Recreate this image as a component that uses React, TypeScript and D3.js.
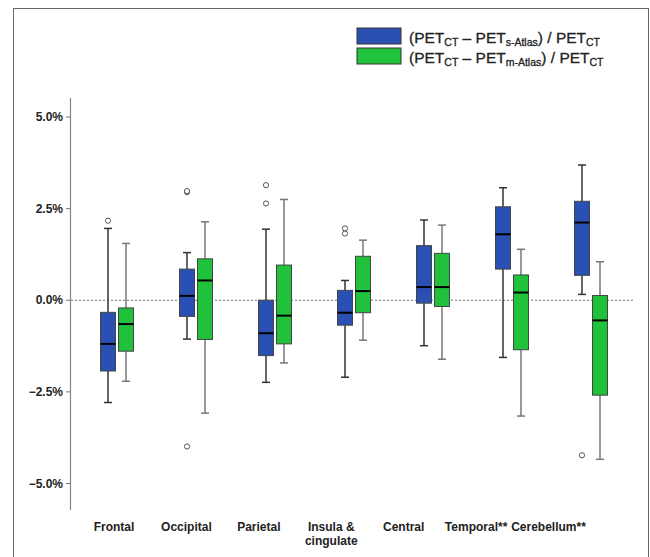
import React from "react";
import * as d3 from "d3";

const categories = ["Frontal", "Occipital", "Parietal", "Insula & cingulate", "Central", "Temporal**", "Cerebellum**"];
const categoryLines = [["Frontal"], ["Occipital"], ["Parietal"], ["Insula &", "cingulate"], ["Central"], ["Temporal**"], ["Cerebellum**"]];

// values in %
const sLow = [-2.79, -1.06, -2.24, -2.10, -1.24, -1.56, 0.16];
const sQ1 = [-1.93, -0.44, -1.51, -0.68, -0.08, 0.85, 0.68];
const sMed = [-1.19, 0.12, -0.90, -0.34, 0.36, 1.80, 2.12];
const sQ3 = [-0.33, 0.85, 0.0, 0.27, 1.49, 2.55, 2.70];
const sHigh = [1.96, 1.30, 1.94, 0.54, 2.19, 3.07, 3.69];
const sOutliers = [[2.17], [2.95, 2.98, -3.99], [3.14, 2.64], [1.96, 1.82], [], [], [-4.23]];

const mLow = [-2.21, -3.08, -1.71, -1.09, -1.61, -3.16, -4.34];
const mQ1 = [-1.39, -1.07, -1.19, -0.34, -0.17, -1.35, -2.59];
const mMed = [-0.65, 0.54, -0.42, 0.25, 0.36, 0.21, -0.55];
const mQ3 = [-0.21, 1.13, 0.96, 1.20, 1.28, 0.69, 0.13];
const mHigh = [1.55, 2.14, 2.75, 1.64, 2.05, 1.39, 1.05];
const mOutliers: number[][] = [[], [], [], [], [], [], []];

const yTicks = [5, 2.5, 0, -2.5, -5];

const BLUE = "#2a50b4";
const GREEN = "#1fc23a";

export default function App() {
  const x = d3.scaleBand<string>().domain(categories).range([77.5, 630.5]).padding(0);
  const xLabel = d3.scalePoint<string>().domain(categories).range([114, 548.5]);
  const y = d3.scaleLinear().domain([-5, 5]).range([483.5, 117]);
  const boxW = 15;
  const offset = 9;
  const capW = 8;

  const series = [
    { color: BLUE, whisk: "#333", low: sLow, q1: sQ1, med: sMed, q3: sQ3, high: sHigh, out: sOutliers, dx: -offset },
    { color: GREEN, whisk: "#777", low: mLow, q1: mQ1, med: mMed, q3: mQ3, high: mHigh, out: mOutliers, dx: offset },
  ];

  const font = "Arial, 'Liberation Sans', sans-serif";

  return (
    <>
      <style>{`body{margin:0}`}</style>
      <svg width={650} height={557} style={{ display: "block", fontFamily: font }}>
        <rect x={0} y={0} width={650} height={557} fill="#fff" />
        <rect x={13.5} y={8.5} width={635} height={560} fill="none" stroke="#666" strokeWidth={1} />

        {/* y axis */}
        <line x1={70.5} x2={70.5} y1={98} y2={510} stroke="#888" strokeWidth={1.2} />
        {yTicks.map((t) => (
          <g key={t}>
            <line x1={66} x2={70.5} y1={y(t)} y2={y(t)} stroke="#777" />
            <text x={63} y={y(t)} dy="0.35em" textAnchor="end" fontSize={12} fontWeight="bold" fill="#222">
              {d3.format(".1f")(t) + "%"}
            </text>
          </g>
        ))}

        {/* zero reference line */}
        <line x1={71} x2={633} y1={y(0)} y2={y(0)} stroke="#777" strokeWidth={1} strokeDasharray="2,2" />

        {/* boxes */}
        {categories.map((c, i) => {
          const cx0 = (x(c) as number) + x.bandwidth() / 2;
          return (
            <g key={c}>
              {series.map((s, k) => {
                const cx = cx0 + s.dx;
                return (
                  <g key={k}>
                    <line x1={cx} x2={cx} y1={y(s.high[i])} y2={y(s.q3[i])} stroke={s.whisk} strokeWidth={1.5} />
                    <line x1={cx} x2={cx} y1={y(s.q1[i])} y2={y(s.low[i])} stroke={s.whisk} strokeWidth={1.5} />
                    <line x1={cx - capW / 2} x2={cx + capW / 2} y1={y(s.high[i])} y2={y(s.high[i])} stroke={s.whisk} strokeWidth={1.5} />
                    <line x1={cx - capW / 2} x2={cx + capW / 2} y1={y(s.low[i])} y2={y(s.low[i])} stroke={s.whisk} strokeWidth={1.5} />
                    <rect x={cx - boxW / 2} y={y(s.q3[i])} width={boxW} height={y(s.q1[i]) - y(s.q3[i])} fill={s.color} stroke="#444" strokeWidth={1} />
                    <line x1={cx - boxW / 2} x2={cx + boxW / 2} y1={y(s.med[i])} y2={y(s.med[i])} stroke="#000" strokeWidth={2} />
                    {s.out[i].map((o, j) => (
                      <circle key={j} cx={cx} cy={y(o)} r={2.6} fill="#fff" stroke="#555" strokeWidth={1} />
                    ))}
                  </g>
                );
              })}
            </g>
          );
        })}

        {/* category labels */}
        {categories.map((c, i) => (
          <text key={c} x={xLabel(c)} y={531} textAnchor="middle" fontSize={12} fontWeight="bold" fill="#222">
            {categoryLines[i].map((l, j) => (
              <tspan key={j} x={xLabel(c)} dy={j === 0 ? 0 : 14}>{l}</tspan>
            ))}
          </text>
        ))}

        {/* legend */}
        <rect x={357} y={28} width={44} height={16} fill={BLUE} stroke="#333" strokeWidth={1} />
        <rect x={357} y={48} width={44} height={16} fill={GREEN} stroke="#333" strokeWidth={1} />
        {[["s-Atlas", 43], ["m-Atlas", 63]].map(([sub, yy]) => (
          <text key={sub as string} x={409} y={yy as number} fontSize={15.5} fill="#222" stroke="#222" strokeWidth={0.3}>
            <tspan>(PET</tspan>
            <tspan fontSize={10.5} dy={3}>CT</tspan>
            <tspan dy={-3}> – PET</tspan>
            <tspan fontSize={10.5} dy={3}>{sub}</tspan>
            <tspan dy={-3}>) / PET</tspan>
            <tspan fontSize={10.5} dy={3}>CT</tspan>
          </text>
        ))}
      </svg>
    </>
  );
}
